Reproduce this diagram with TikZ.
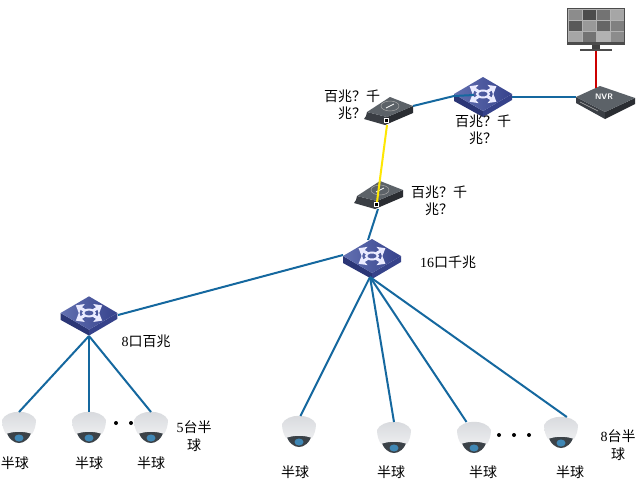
\documentclass[tikz,border=0pt]{standalone}
\usepackage{fontspec}
\setmainfont{Liberation Serif}
\newfontfamily\cjk{Noto Sans CJK SC}
\usepackage{tikz}
\usetikzlibrary{positioning,arrows.meta,calc,fit}
\definecolor{linkblue}{HTML}{15689F}
\definecolor{swtop}{HTML}{4757A3}
\definecolor{swtopdark}{HTML}{36428C}
\definecolor{swleft}{HTML}{2B3676}
\definecolor{swright}{HTML}{36428A}
\definecolor{boxtop}{HTML}{5C6268}
\definecolor{boxleft}{HTML}{3A3E44}
\definecolor{boxright}{HTML}{2A2D32}
\definecolor{domeshell}{HTML}{D6D8DC}
\definecolor{domelow}{HTML}{ECEDEF}
\definecolor{domeglass}{HTML}{3B4248}
\definecolor{domelens}{HTML}{3F87B5}

\begin{document}
\begin{tikzpicture}[
    x=1pt, y=-1pt,
    font=\fontsize{14}{17.5}\selectfont\cjk,
    anchorbox/.style={inner sep=0pt, outer sep=0pt, minimum width=#1, minimum height=#1},
    link/.style={draw=linkblue, line width=2pt},
    fibre/.style={draw=yellow!90!orange, line width=2pt},
    hdmi/.style={draw=red!80!black, line width=2pt},
    lbl/.style={align=center, inner sep=0pt, text width=60pt},
    dot/.style={circle, fill=black, inner sep=0pt, minimum size=4pt},
    switchicon/.pic={
      \fill[swleft] (-29,0) -- (0,17) -- (0,23) -- (-29,7) -- cycle;
      \fill[swright] (0,17) -- (29,0) -- (29,6) -- (0,23) -- cycle;
      \shade[left color=swtop!85!white, right color=swtopdark] (-29,0) -- (0,-17) -- (29,0) -- (0,17) -- cycle;
      \foreach \ang in {0,90,180,270} {
        \begin{scope}[yscale=0.58, rotate=\ang+45]
          \draw[white!92!blue, line width=3pt, -{Stealth[length=7pt,width=11pt,inset=1pt]}] (6,0) -- (19,0);
        \end{scope}
      }
      \draw[white!92!blue, line width=2pt] (0,0) ellipse (6 and 3.5);
    },
    convicon/.pic={
      \fill[boxleft] (-23,6) -- (-3,11) -- (-5,19) -- (-26,13) -- (-24,10) -- cycle;
      \fill[boxright] (-3,11) -- (23,0) -- (23,7) -- (-5,19) -- cycle;
      \fill[boxtop] (-23,6) -- (0,-9) -- (23,0) -- (-3,11) -- cycle;
      \draw[gray!70, line width=.5pt] (0,0) ellipse (9 and 5);
      \draw[white, line width=.8pt] (-4,2) -- (4,-2);
      \draw[white, fill=black, line width=.4pt] (-6,12) rectangle (-2,16);
    },
    nvricon/.pic={
      \fill[boxleft] (-24,-1) -- (5,14) -- (5,21) -- (-24,5) -- cycle;
      \fill[boxright] (5,14) -- (35,0) -- (35,6) -- (5,21) -- cycle;
      \fill[boxtop] (-24,-1) -- (0,-12) -- (35,0) -- (5,14) -- cycle;
      \node[white, font=\fontsize{8}{9}\selectfont\bfseries\sffamily] (nvrtext) at (4,-1) {NVR};
      \draw[gray!60, line width=.6pt] (-20,4) -- (-2,13);
    },
    domeicon/.pic={
      \fill[domeglass] (-13,2) .. controls (-11,11) and (-5,15) .. (0,15)
        .. controls (5,15) and (11,11) .. (13,2) -- cycle;
      \fill[domelens] (0,10) ellipse (4.5 and 3.5);
      \shade[top color=domeshell, bottom color=domelow]
        (-17,-8) .. controls (-12,-19) and (12,-19) .. (17,-8)
        .. controls (17,-2) and (15,3) .. (13,6)
        .. controls (5,3) and (-5,3) .. (-13,6)
        .. controls (-15,3) and (-17,-2) .. (-17,-8) -- cycle;
    },
  ]
    \useasboundingbox[fill=white] (0,0) rectangle (640,482);

    % devices
    \node[anchorbox=1pt] (monitor) at (596,29) {};
    \node[anchorbox=40pt] (nvr) at (600,98) {};
    \node[anchorbox=40pt] (coreswitch) at (483,94) {};
    \node[anchorbox=40pt] (convtop) at (390,106) {};
    \node[anchorbox=40pt] (convlow) at (380,190) {};
    \node[anchorbox=40pt] (mainswitch) at (372,256) {};
    \node[anchorbox=40pt] (subswitch) at (89,313) {};

    % monitor
    \fill[black!75] (monitor.center) ++(-4,14) rectangle ++(8,7);
    \fill[black!70] (monitor.center) ++(-16,20) rectangle ++(32,2);
    \fill[black!70] (567,8) rectangle (625,45);
    \fill[gray!60] (568,9) rectangle (624,42);
    \foreach \cellx/\celly/\shadeval in {569/10/45, 583/10/70, 597/10/55, 611/10/35, 569/21/65, 583/21/40, 597/21/60, 611/21/50, 569/32/35, 583/32/55, 597/32/30, 611/32/45}
      \fill[black!\shadeval] (\cellx,\celly) rectangle ++(13,10);

    \pic at (nvr.center) {nvricon};
    \pic at (coreswitch.center) {switchicon};
    \pic at (convtop.center) {convicon};
    \pic at (convlow.center) {convicon};
    \pic at (mainswitch.center) {switchicon};
    \pic[scale=.98] at (subswitch.center) {switchicon};

    % cameras
    \foreach \camname/\camx/\camy in {cam1/19/428, cam2/89/428, cam3/151/428, cam4/299/432, cam5/394/438, cam6/474/438, cam7/561/433} {
      \node[anchorbox=32pt] (\camname) at (\camx,\camy) {};
      \pic at (\camname.center) {domeicon};
    }

    % links
    \draw[hdmi] ($(monitor.center)+(0,22)$) coordinate (monfoot) -- ($(nvr.center)+(-4,-10)$);
    \draw[link] ($(convtop.center)+(23,0)$) -- ($(coreswitch.center)+(-29,2)$) -- ($(coreswitch.center)+(-9,1)$);
    \draw[link] ($(coreswitch.center)+(29,3)$) -- ($(nvr.center)+(-24,-1)$);
    \draw[link] ($(convlow.center)+(-2,19)$) -- ($(mainswitch.center)+(-4,-16)$);
    \draw[fibre] ($(convtop.center)+(-3,19)$) -- ($(convlow.center)+(-3,12)$);
    \draw[link] ($(subswitch.center)+(29,2)$) -- ($(mainswitch.center)+(-29,-1)$);
    \foreach \camname in {cam1,cam2,cam3} \draw[link] ($(subswitch.center)+(0,23)$) -- (\camname.north);
    \foreach \camname/\ang in {cam4/85,cam5/90,cam6/115,cam7/70} \draw[link] ($(mainswitch.center)+(-2,21)$) -- (\camname.\ang);

    % dots
    \node[dot] (dota) at (116,423) {};
    \node[dot] (dotb) at (131,423) {};
    \node[dot] (dotc) at (499,435) {};
    \node[dot] (dotd) at (514,435) {};
    \node[dot] (dote) at (529,435) {};

    % labels
    \node[lbl] (labconvtop) at (352,105) {百兆？千\\兆？};
    \node[lbl] (labcore) at (483,130) {百兆？千\\兆？};
    \node[lbl] (labconvlow) at (439,201) {百兆？千\\兆？};
    \node[lbl] (labmain) at (448,262) {\textrm{16}口千兆};
    \node[lbl] (labsub) at (146,341) {\textrm{8}口百兆};
    \node[lbl] (labfive) at (194,436) {\textrm{5}台半\\球};
    \node[lbl] (labeight) at (618,445) {\textrm{8}台半\\球};
    \foreach \labname/\labx/\laby in {lab1/15/463, lab2/89/463, lab3/151/463, lab4/295/472, lab5/391/472, lab6/483/472, lab7/570/472}
      \node[lbl] (\labname) at (\labx,\laby) {半球};
\end{tikzpicture}
\end{document}
